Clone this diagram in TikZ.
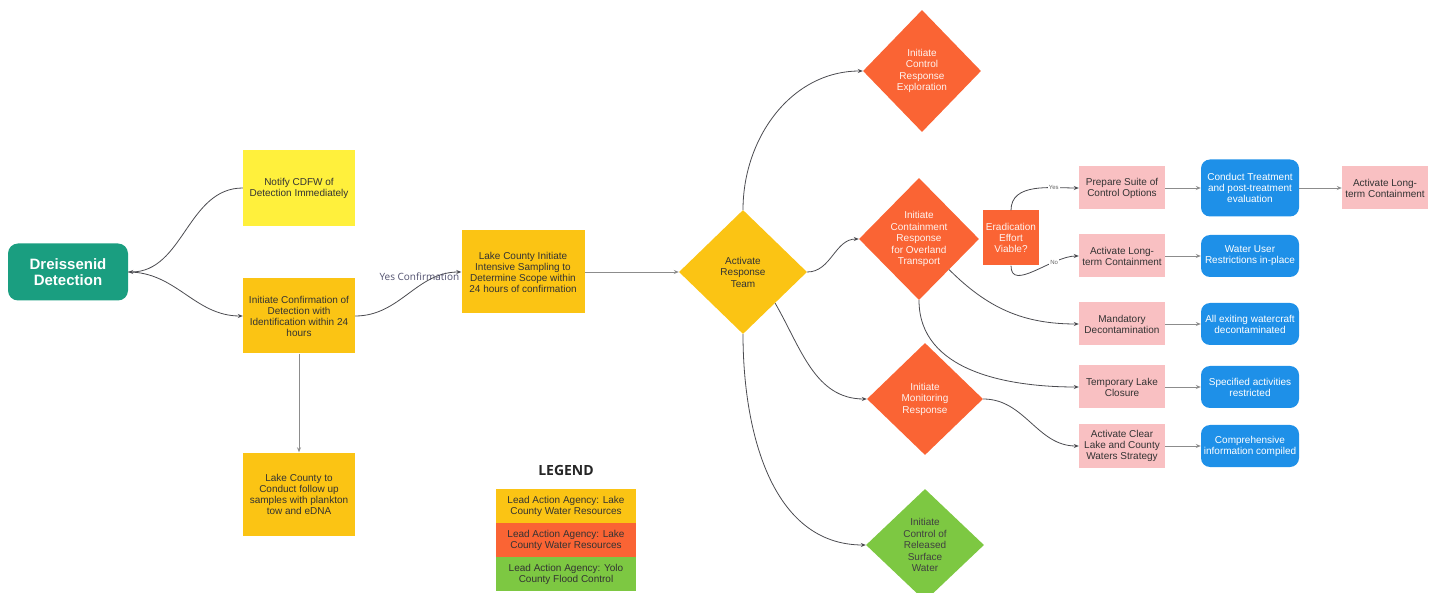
\documentclass[tikz,border=0pt]{standalone}
\usepackage{fontspec}
\setmainfont{Liberation Sans}
\newfontfamily\opensans{Open Sans}
\usetikzlibrary{shapes.geometric,arrows.meta}

\definecolor{detectteal}{RGB}{26,158,128}
\definecolor{notifyyellow}{RGB}{255,240,60}
\definecolor{leadamber}{RGB}{251,196,20}
\definecolor{leadorange}{RGB}{250,100,52}
\definecolor{leadgreen}{RGB}{125,200,66}
\definecolor{actionpink}{RGB}{249,192,194}
\definecolor{outcomeblue}{RGB}{30,144,232}
\definecolor{curvegrey}{RGB}{75,75,80}
\definecolor{stepgrey}{RGB}{140,140,140}
\definecolor{labelslate}{RGB}{80,80,110}

\begin{document}
\begin{tikzpicture}[x=1pt,y=1pt,
	box/.style={rectangle, align=center, inner sep=1pt, text=black!80, font=\fontsize{10}{11}\selectfont},
	dia/.style={diamond, align=center, inner sep=0pt, font=\fontsize{10}{11.5}\selectfont},
	pinkbox/.style={box, fill=actionpink, minimum width=86, minimum height=43},
	bluebox/.style={box, fill=outcomeblue, text=white, rounded corners=9pt, minimum width=98, minimum height=42},
	legbox/.style={box, minimum width=140, minimum height=34},
	arr/.style={draw=curvegrey, line width=0.8pt, -{Stealth[length=5pt,width=4pt]}},
	straight/.style={arr, draw=stepgrey},
	choice/.style={font=\fontsize{6}{6}\selectfont, text=black!60, fill=white, inner sep=1pt}]
	\useasboundingbox (0,0) rectangle (1437,592);

	% start and first actions
	\node[box, fill=detectteal, text=white, rounded corners=10pt, minimum width=120, minimum height=57,
		font=\fontsize{15}{16}\selectfont\bfseries] (detect) at (68,320) {Dreissenid\\Detection};
	\node[box, fill=notifyyellow, minimum width=112, minimum height=76] (notify) at (299,404) {Notify CDFW of\\Detection Immediately};
	\node[box, fill=leadamber, minimum width=112, minimum height=75] (confirm) at (299,276) {Initiate Confirmation of\\Detection with\\Identification within 24\\hours};
	\node[box, fill=leadamber, minimum width=112, minimum height=83] (followup) at (299,98) {Lake County to\\Conduct follow up\\samples with plankton\\tow and eDNA};
	\node[box, fill=leadamber, minimum width=123, minimum height=83] (sampling) at (523,320) {Lake County Initiate\\Intensive Sampling to\\Determine Scope within\\24 hours of confirmation};

	% response diamonds
	\node[dia, fill=leadamber, text=black!80, minimum width=128, minimum height=124] (act) at (743,320) {Activate\\Response\\Team};
	\node[dia, fill=leadorange, text=white!92!leadorange, minimum width=118, minimum height=122] (explore) at (922,521) {Initiate\\Control\\Response\\Exploration};
	\node[dia, fill=leadorange, text=white!92!leadorange, minimum width=120, minimum height=122] (contain) at (919,353) {Initiate\\Containment\\Response\\for Overland\\Transport};
	\node[dia, fill=leadorange, text=white!92!leadorange, minimum width=116, minimum height=112] (monitor) at (925,193) {Initiate\\Monitoring\\Response};
	\node[dia, fill=leadgreen, text=black!75, minimum width=118, minimum height=112] (release) at (925,47) {Initiate\\Control of\\Released\\Surface\\Water};

	\node[box, fill=leadorange, text=white!92!leadorange, minimum width=56, minimum height=55] (erad) at (1011,354) {Eradication\\Effort\\Viable?};

	% actions and outcomes
	\node[pinkbox] (prepare) at (1122,404) {Prepare Suite of\\Control Options};
	\node[bluebox, minimum height=57] (treat) at (1250,404) {Conduct Treatment\\and post-treatment\\evaluation};
	\node[pinkbox] (longterm) at (1385,404) {Activate Long-\\term Containment};
	\node[pinkbox] (holdback) at (1122,336) {Activate Long-\\term Containment};
	\node[bluebox] (waterusers) at (1250,336) {Water User\\Restrictions in-place};
	\node[pinkbox] (decon) at (1122,268) {Mandatory\\Decontamination};
	\node[bluebox] (craft) at (1250,268) {All exiting watercraft\\decontaminated};
	\node[pinkbox] (closure) at (1122,205) {Temporary Lake\\Closure};
	\node[bluebox] (restrict) at (1250,205) {Specified activities\\restricted};
	\node[pinkbox] (strategy) at (1122,146) {Activate Clear\\Lake and County\\Waters Strategy};
	\node[bluebox] (info) at (1250,146) {Comprehensive\\information compiled};

	% legend
	\node[font=\opensans\fontsize{14}{14}\selectfont\bfseries, text=black!85] (legtitle) at (566,122) {LEGEND};
	\node[legbox, fill=leadamber] (legamber) at (566,86) {Lead Action Agency: Lake\\County Water Resources};
	\node[legbox, fill=leadorange] (legorange) at (566,52) {Lead Action Agency: Lake\\County Water Resources};
	\node[legbox, fill=leadgreen] (leggreen) at (566,18) {Lead Action Agency: Yolo\\County Flood Control};

	% connectors
	\draw[arr] (notify.west) to[out=180,in=0] (detect.east);
	\draw[arr] (detect.east) to[out=0,in=180] (confirm.west);
	\draw[arr] (confirm.east) to[out=0,in=180] node[pos=.62, yshift=10pt, font=\opensans\fontsize{10}{10}\selectfont, text=labelslate] {Yes Confirmation} (sampling.west);
	\draw[straight] (confirm.south) -- (followup.north);
	\draw[straight] (sampling.east) -- (act.west);
	\draw[arr] (act.north) to[out=90,in=180] (explore.west);
	\draw[arr] (act.east) to[out=0,in=180] (contain.west);
	\draw[arr] (act.south east) to[out=-60,in=180] (monitor.west);
	\draw[arr] (act.south) to[out=-90,in=180] (release.west);
	\draw[arr] (erad.north) to[out=90,in=180] node[choice, pos=.72] {Yes} (prepare.west);
	\draw[arr] (erad.south) to[out=-90,in=180] node[choice, pos=.72] {No} (holdback.west);
	\draw[arr] (contain.south east) to[out=-45,in=180] (decon.west);
	\draw[arr] (contain.south) to[out=-90,in=180] (closure.west);
	\draw[arr] (monitor.east) to[out=0,in=180] (strategy.west);

	\draw[straight] (prepare) -- (treat);
	\draw[straight] (treat) -- (longterm);
	\draw[straight] (holdback) -- (waterusers);
	\draw[straight] (decon) -- (craft);
	\draw[straight] (closure) -- (restrict);
	\draw[straight] (strategy) -- (info);
\end{tikzpicture}
\end{document}
